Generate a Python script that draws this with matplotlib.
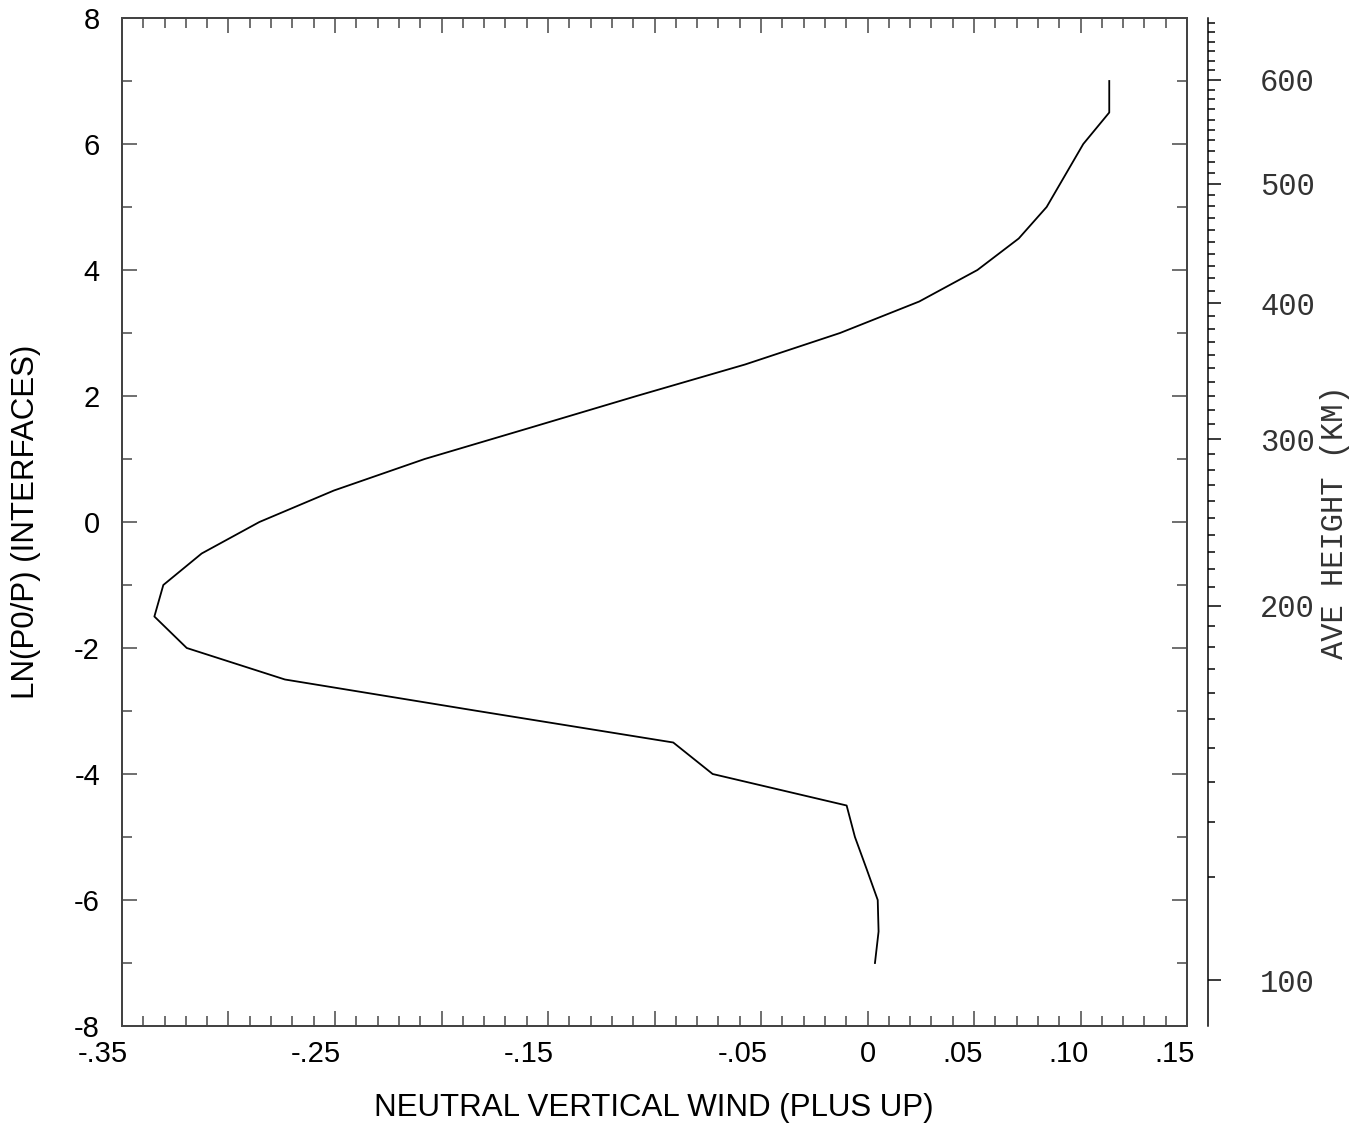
import numpy as np
import matplotlib
matplotlib.use('Agg')
import matplotlib.pyplot as plt
from matplotlib.ticker import MultipleLocator, FixedLocator, FixedFormatter, NullFormatter
from matplotlib.transforms import offset_copy

plt.rcParams['axes.unicode_minus'] = False
plt.rcParams['font.family'] = ['Liberation Sans', 'DejaVu Sans']

# interface levels ln(p0/p) and the wind profile
lnp = [-7.0, -6.5, -6.0, -5.5, -5.0, -4.5, -4.0, -3.5, -3.0, -2.5,
       -2.0, -1.5, -1.0, -0.5, 0.0, 0.5, 1.0, 1.5, 2.0, 2.5,
       3.0, 3.5, 4.0, 4.5, 5.0, 5.5, 6.0, 6.5, 7.0]
wind = [0.0035, 0.0052, 0.0048, -0.0005, -0.0059, -0.0098, -0.0727, -0.0912, -0.183, -0.2735,
        -0.3196, -0.3348, -0.3306, -0.3126, -0.2855, -0.2505, -0.2079, -0.158, -0.1084, -0.0575,
        -0.0129, 0.0243, 0.0516, 0.0710, 0.0841, 0.0927, 0.1013, 0.1135, 0.1135]

# average height (km) against ln(p0/p)
km_knots = [100, 110, 120, 130, 140, 150, 160, 170, 180, 190, 200, 300, 400, 500, 600]
z_knots = [-7.27, -5.63, -4.757, -4.122, -3.592, -3.132, -2.710, -2.333, -1.979, -1.646,
           -1.329, 1.317, 3.471, 5.370, 7.016]
km_labels = [100, 200, 300, 400, 500, 600]

x_label_vals = [-0.35, -0.25, -0.15, -0.05, 0.0, 0.05, 0.10, 0.15]
x_label_text = ['-.35', '-.25', '-.15', '-.05', '0', '.05', '.10', '.15']
x_label_shift = [-19, -19, -19, -18, 0, -11, -12, -12]   # px, labels sit a bit left of their ticks


def pchip(xk, yk, x):
    xk = np.asarray(xk, float)
    yk = np.asarray(yk, float)
    x = np.asarray(x, float)
    h = np.diff(xk)
    d = np.diff(yk) / h
    m = np.zeros_like(yk)
    for k in range(1, len(xk) - 1):
        if d[k - 1] * d[k] > 0:
            w1 = 2 * h[k] + h[k - 1]
            w2 = h[k] + 2 * h[k - 1]
            m[k] = (w1 + w2) / (w1 / d[k - 1] + w2 / d[k])
    m[0] = ((2 * h[0] + h[1]) * d[0] - h[0] * d[1]) / (h[0] + h[1])
    m[-1] = ((2 * h[-1] + h[-2]) * d[-1] - h[-1] * d[-2]) / (h[-1] + h[-2])
    i = np.clip(np.searchsorted(xk, x) - 1, 0, len(xk) - 2)
    t = (x - xk[i]) / h[i]
    out = ((2 * t**3 - 3 * t**2 + 1) * yk[i] + (t**3 - 2 * t**2 + t) * h[i] * m[i]
           + (-2 * t**3 + 3 * t**2) * yk[i + 1] + (t**3 - t**2) * h[i] * m[i + 1])
    above = x > xk[-1]
    out[above] = yk[-1] + m[-1] * (x[above] - xk[-1])
    return out


W, H = 1365, 1128
fig = plt.figure(figsize=(W / 100, H / 100), dpi=100)
px = 0.72  # points per pixel

gray = '#444444'
ax = fig.add_axes([122 / W, 1 - 1026 / H, (1187 - 122) / W, (1026 - 18) / H])
ax.plot(wind, lnp, color='black', lw=1.3)
ax.set_xlim(-0.35, 0.15)
ax.set_ylim(-8, 8)
for s in ax.spines.values():
    s.set_color(gray)
    s.set_linewidth(2 * px)

ax.xaxis.set_major_locator(MultipleLocator(0.05))
ax.xaxis.set_minor_locator(MultipleLocator(0.01))
ax.yaxis.set_major_locator(MultipleLocator(2))
ax.yaxis.set_minor_locator(MultipleLocator(1))
ax.yaxis.set_major_formatter(plt.FuncFormatter(lambda v, p: f'{v:g}'))
ax.tick_params(which='both', direction='in', top=True, right=True, color=gray, width=1.5 * px)
ax.tick_params(which='major', length=15 * px)
ax.tick_params(which='minor', length=10 * px)
ax.tick_params(axis='x', labelbottom=False)
ax.tick_params(axis='y', labelsize=21, pad=22 * px, labelcolor='black')

for v, s, dx in zip(x_label_vals, x_label_text, x_label_shift):
    tr = offset_copy(ax.get_xaxis_transform(), fig=fig, x=dx * px, y=-14 * px, units='points')
    ax.text(v, 0, s, transform=tr, ha='center', va='top', fontsize=21)

fig.text(654 / W, 1 - 1108 / H, 'NEUTRAL VERTICAL WIND (PLUS UP)', ha='center', va='center', fontsize=22.5)
fig.text(26 / W, 1 - 522 / H, 'LN(P0/P) (INTERFACES)', ha='center', va='center', rotation=90, fontsize=22.5)

# height scale on a separate spine
ax2 = fig.add_axes([1208 / W - 0.001, 1 - 1026 / H, 0.001, (1026 - 18) / H])
ax2.patch.set_visible(False)
for k in ['left', 'top', 'bottom']:
    ax2.spines[k].set_visible(False)
ax2.spines['right'].set_linewidth(1.5 * px)
ax2.set_xticks([])
ax2.set_ylim(-8, 8)
ax2.yaxis.tick_right()
minor_km = [k for k in range(110, 700, 10) if k % 100 != 0]
minor_z = [z for z in pchip(km_knots, z_knots, minor_km) if z <= 8]
ax2.yaxis.set_major_locator(FixedLocator(pchip(km_knots, z_knots, km_labels)))
ax2.yaxis.set_major_formatter(FixedFormatter([str(k) for k in km_labels]))
ax2.yaxis.set_minor_locator(FixedLocator(minor_z))
ax2.yaxis.set_minor_formatter(NullFormatter())
ax2.tick_params(which='both', direction='out', width=1.5 * px)
ax2.tick_params(which='major', length=13 * px, pad=39 * px, labelsize=22, labelcolor='#333333')
ax2.tick_params(which='minor', length=7 * px)
mono = ['Liberation Mono', 'DejaVu Sans Mono']
for lab in ax2.get_yticklabels():
    lab.set_fontfamily(mono)
fig.text(1335 / W, 1 - 522 / H, 'AVE HEIGHT (KM)', ha='center', va='center', rotation=90,
         fontsize=22, family=mono, color='#333333')

fig.savefig('out.png', dpi=100)
